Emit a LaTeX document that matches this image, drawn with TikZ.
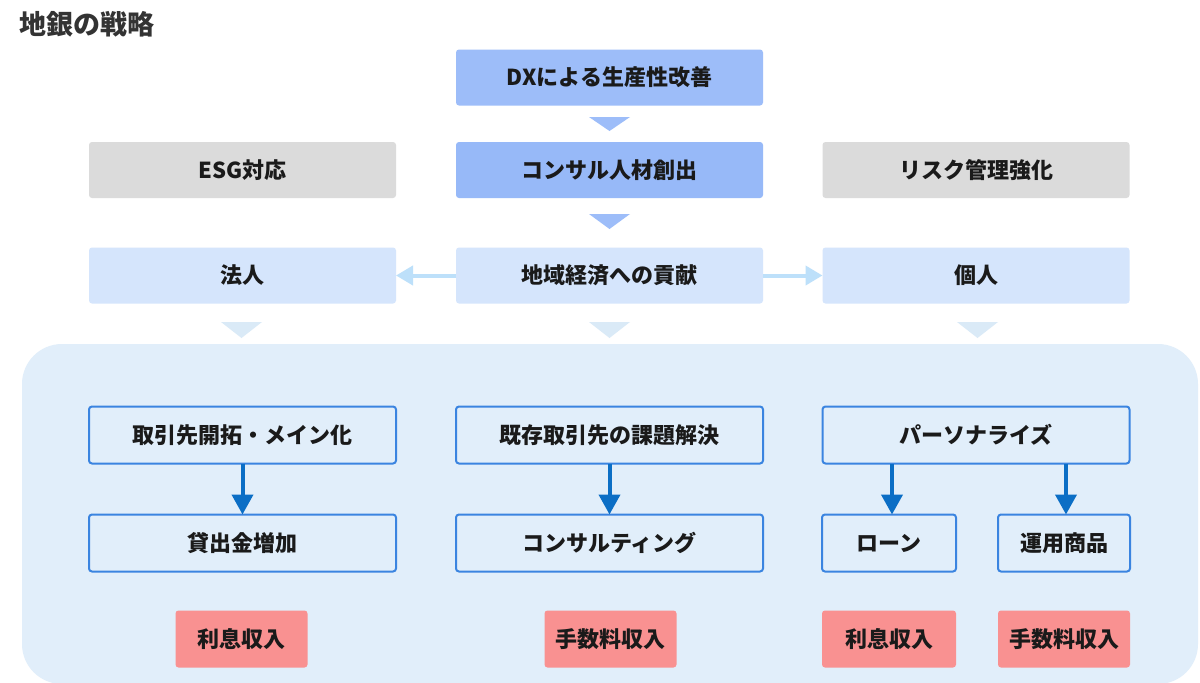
\documentclass[tikz,border=0pt]{standalone}
\usepackage{fontspec}
\setmainfont{Noto Sans CJK JP}
\usetikzlibrary{arrows.meta}
\definecolor{dxblue}{HTML}{9DBDF9}
\definecolor{conblue}{HTML}{97B9F8}
\definecolor{greybox}{HTML}{DBDBDB}
\definecolor{lightbox}{HTML}{D5E5FC}
\definecolor{areabg}{HTML}{E1EEFA}
\definecolor{chevlight}{HTML}{DAEAF7}
\definecolor{sidearrow}{HTML}{BDE0FA}
\definecolor{innerborder}{HTML}{3A84E0}
\definecolor{darkarrow}{HTML}{0B6EC5}
\definecolor{redbox}{HTML}{F99191}
\definecolor{txt}{HTML}{1A1A1A}
\definecolor{titletxt}{HTML}{333333}
\tikzset{
  base/.style={rectangle, rounded corners=3pt, inner sep=0pt, outer sep=0pt,
    text=txt, font=\fontsize{22}{26}\selectfont\bfseries,
    minimum width=307pt, minimum height=56pt},
  dxbox/.style={base, fill=dxblue},
  conbox/.style={base, fill=conblue},
  greyb/.style={base, fill=greybox},
  lightb/.style={base, fill=lightbox},
  innerb/.style={base, draw=innerborder, line width=2pt, minimum height=57pt},
  redb/.style={base, fill=redbox, minimum width=132pt, minimum height=57pt},
  sidearr/.style={draw=sidearrow, line width=4pt, -{Triangle[length=17pt,width=19pt]}},
  darkarr/.style={draw=darkarrow, line width=4pt, -{Triangle[length=20pt,width=21pt]}},
}
\begin{document}
\begin{tikzpicture}[x=1pt,y=-1pt]
\useasboundingbox (0,0) rectangle (1200,683);
\fill[white] (0,0) rectangle (1200,683);
% big area
\fill[areabg, rounded corners=40pt] (22,344) rectangle (1198,684);
% title
\node[anchor=west, text=titletxt, font=\fontsize{27}{30}\selectfont\bfseries, inner sep=0pt] (title) at (19,24) {地銀の戦略};
% top column
\node[dxbox] (dx) at (609.5,77.5) {DXによる生産性改善};
\node[conbox] (con) at (609.5,170) {コンサル人材創出};
\node[greyb] (esg) at (242.5,170) {ESG対応};
\node[greyb] (risk) at (976,170) {リスク管理強化};
\node[lightb] (region) at (609.5,275.5) {地域経済への貢献};
\node[lightb] (corp) at (242.5,275.5) {法人};
\node[lightb] (indiv) at (976,275.5) {個人};
% chevrons
\fill[dxblue] (589,117) -- (630,117) -- (609.5,131) -- cycle;
\fill[dxblue] (589,214) -- (630,214) -- (609.5,229) -- cycle;
\fill[chevlight] (221,322) -- (262,322) -- (241.5,338) -- cycle;
\fill[chevlight] (589,322) -- (630,322) -- (609.5,338) -- cycle;
\fill[chevlight] (957,322) -- (998,322) -- (977.5,338) -- cycle;
% side arrows
\draw[sidearr] (region.west) -- (corp.east);
\draw[sidearr] (region.east) -- (indiv.west);
% inner boxes
\node[innerb] (dev) at (242.5,435) {取引先開拓・メイン化};
\node[innerb] (loanup) at (242.5,543) {貸出金増加};
\node[innerb] (solve) at (609.5,435) {既存取引先の課題解決};
\node[innerb] (consult) at (609.5,543) {コンサルティング};
\node[innerb] (pers) at (976,435) {パーソナライズ};
\node[innerb, minimum width=134pt] (loan) at (889,543) {ローン};
\node[innerb, minimum width=132pt] (fund) at (1064,543) {運用商品};
% dark arrows
\draw[darkarr] (dev.south) -- (loanup.north);
\draw[darkarr] (solve.south) -- (consult.north);
\coordinate (p1) at (892,463.5);
\coordinate (p2) at (1066,463.5);
\draw[darkarr] (p1) -- (p1 |- loan.north);
\draw[darkarr] (p2) -- (p2 |- fund.north);
% red boxes
\node[redb] (r1) at (241.5,639) {利息収入};
\node[redb] (r2) at (610.5,639) {手数料収入};
\node[redb, minimum width=134pt] (r3) at (889,639) {利息収入};
\node[redb] (r4) at (1064,639) {手数料収入};
\end{tikzpicture}
\end{document}
